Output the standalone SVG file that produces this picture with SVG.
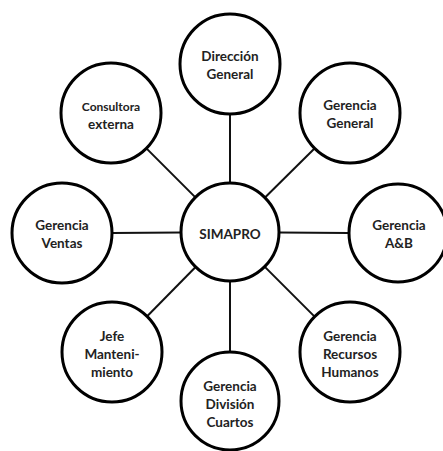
<svg xmlns="http://www.w3.org/2000/svg" width="443" height="451" viewBox="0 0 443 451">
<style>
.n{fill:#fff;stroke:#000;stroke-width:3}
.c line{stroke:#111;stroke-width:2}
text{font-family:Lato,"Open Sans","Liberation Sans",sans-serif;font-weight:bold;font-size:13.5px;fill:#222;text-anchor:middle;dominant-baseline:central}
.s{font-size:12px}
</style>
<rect width="443" height="451" fill="#fff"/>
<g id="connectors" class="c">
<line x1="230" y1="183" x2="230" y2="114"/>
<line x1="265" y1="197.5" x2="315" y2="148"/>
<line x1="195.4" y1="197.4" x2="146.4" y2="148.4"/>
<line x1="181" y1="232.5" x2="112" y2="233"/>
<line x1="279" y1="232.5" x2="349" y2="233"/>
<line x1="195.6" y1="267" x2="146.4" y2="317"/>
<line x1="230" y1="281" x2="230" y2="351"/>
<line x1="264.6" y1="266.6" x2="314.6" y2="316.6"/>
</g>
<g id="simapro"><circle class="n" cx="230" cy="232" r="49"/><text x="230" y="234">SIMAPRO</text></g>
<g id="direccion"><circle class="n" cx="230" cy="64" r="50"/><text x="230" y="56">Dirección</text><text x="230" y="74">General</text></g>
<g id="gerencia-general"><circle class="n" cx="350" cy="113" r="50"/><text x="350" y="105">Gerencia</text><text x="350" y="123">General</text></g>
<g id="consultora"><circle class="n" cx="111" cy="113" r="50"/><text class="s" x="111" y="106">Consultora</text><text x="111" y="124">externa</text></g>
<g id="ventas"><circle class="n" cx="62" cy="233" r="50"/><text x="62" y="225">Gerencia</text><text x="62" y="243">Ventas</text></g>
<g id="ab"><circle class="n" cx="398" cy="233" r="49"/><text x="399" y="225">Gerencia</text><text x="399" y="243">A&amp;B</text></g>
<g id="mantenimiento"><circle class="n" cx="112" cy="352" r="50"/><text x="112" y="336">Jefe</text><text x="112" y="354">Manteni-</text><text x="112" y="372">miento</text></g>
<g id="cuartos"><circle class="n" cx="230" cy="401" r="49"/><text x="230" y="386">Gerencia</text><text x="230" y="404">División</text><text x="230" y="422">Cuartos</text></g>
<g id="rrhh"><circle class="n" cx="350" cy="352" r="50"/><text x="350" y="336">Gerencia</text><text x="350" y="354">Recursos</text><text x="350" y="372">Humanos</text></g>
</svg>
